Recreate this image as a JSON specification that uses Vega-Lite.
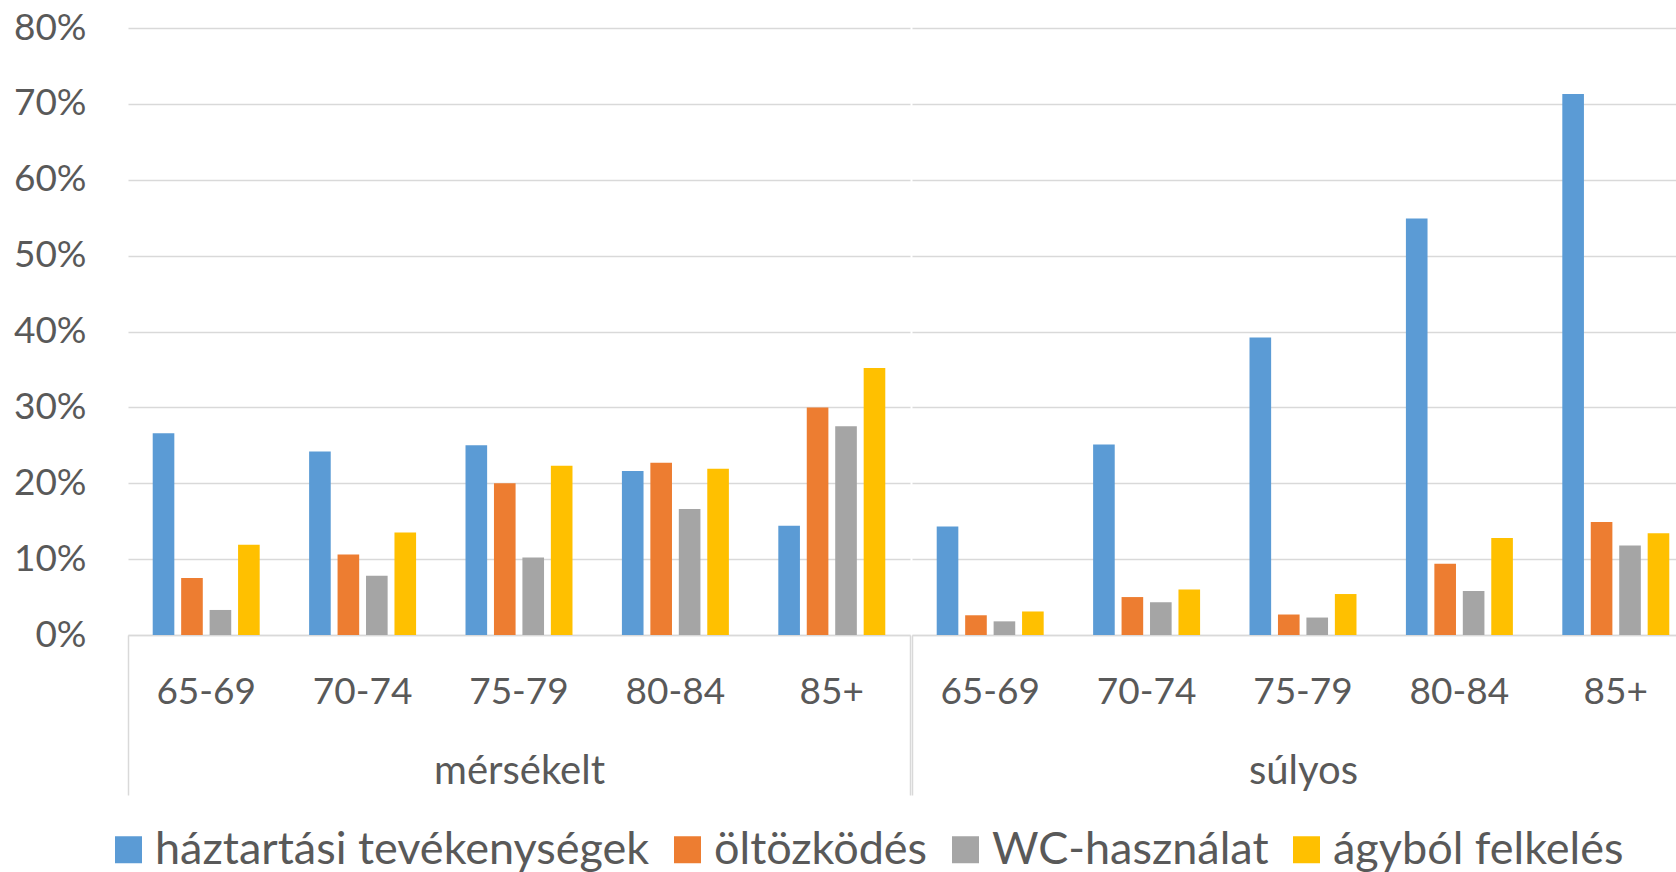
{
  "$schema": "https://vega.github.io/schema/vega-lite/v6.json",
  "autosize": {"type": "pad"},
  "padding": {"left": 13, "top": 9, "right": 0, "bottom": 0},
  "background": "white",
  "config": {
    "view": {"stroke": null},
    "font": "Lato",
    "axis": {"labelFont": "Lato", "labelColor": "#595959"}
  },
  "data": {
    "values": [
      {"group": "mérsékelt", "age": "65-69", "series": "háztartási tevékenységek", "value": 0.266},
      {"group": "mérsékelt", "age": "65-69", "series": "öltözködés", "value": 0.075},
      {"group": "mérsékelt", "age": "65-69", "series": "WC-használat", "value": 0.033},
      {"group": "mérsékelt", "age": "65-69", "series": "ágyból felkelés", "value": 0.119},
      {"group": "mérsékelt", "age": "70-74", "series": "háztartási tevékenységek", "value": 0.242},
      {"group": "mérsékelt", "age": "70-74", "series": "öltözködés", "value": 0.106},
      {"group": "mérsékelt", "age": "70-74", "series": "WC-használat", "value": 0.078},
      {"group": "mérsékelt", "age": "70-74", "series": "ágyból felkelés", "value": 0.135},
      {"group": "mérsékelt", "age": "75-79", "series": "háztartási tevékenységek", "value": 0.250},
      {"group": "mérsékelt", "age": "75-79", "series": "öltözködés", "value": 0.200},
      {"group": "mérsékelt", "age": "75-79", "series": "WC-használat", "value": 0.102},
      {"group": "mérsékelt", "age": "75-79", "series": "ágyból felkelés", "value": 0.223},
      {"group": "mérsékelt", "age": "80-84", "series": "háztartási tevékenységek", "value": 0.216},
      {"group": "mérsékelt", "age": "80-84", "series": "öltözködés", "value": 0.227},
      {"group": "mérsékelt", "age": "80-84", "series": "WC-használat", "value": 0.166},
      {"group": "mérsékelt", "age": "80-84", "series": "ágyból felkelés", "value": 0.219},
      {"group": "mérsékelt", "age": "85+", "series": "háztartási tevékenységek", "value": 0.144},
      {"group": "mérsékelt", "age": "85+", "series": "öltözködés", "value": 0.300},
      {"group": "mérsékelt", "age": "85+", "series": "WC-használat", "value": 0.275},
      {"group": "mérsékelt", "age": "85+", "series": "ágyból felkelés", "value": 0.352},
      {"group": "súlyos", "age": "65-69", "series": "háztartási tevékenységek", "value": 0.143},
      {"group": "súlyos", "age": "65-69", "series": "öltözködés", "value": 0.026},
      {"group": "súlyos", "age": "65-69", "series": "WC-használat", "value": 0.018},
      {"group": "súlyos", "age": "65-69", "series": "ágyból felkelés", "value": 0.031},
      {"group": "súlyos", "age": "70-74", "series": "háztartási tevékenységek", "value": 0.251},
      {"group": "súlyos", "age": "70-74", "series": "öltözködés", "value": 0.050},
      {"group": "súlyos", "age": "70-74", "series": "WC-használat", "value": 0.043},
      {"group": "súlyos", "age": "70-74", "series": "ágyból felkelés", "value": 0.060},
      {"group": "súlyos", "age": "75-79", "series": "háztartási tevékenységek", "value": 0.392},
      {"group": "súlyos", "age": "75-79", "series": "öltözködés", "value": 0.027},
      {"group": "súlyos", "age": "75-79", "series": "WC-használat", "value": 0.023},
      {"group": "súlyos", "age": "75-79", "series": "ágyból felkelés", "value": 0.054},
      {"group": "súlyos", "age": "80-84", "series": "háztartási tevékenységek", "value": 0.549},
      {"group": "súlyos", "age": "80-84", "series": "öltözködés", "value": 0.094},
      {"group": "súlyos", "age": "80-84", "series": "WC-használat", "value": 0.058},
      {"group": "súlyos", "age": "80-84", "series": "ágyból felkelés", "value": 0.128},
      {"group": "súlyos", "age": "85+", "series": "háztartási tevékenységek", "value": 0.713},
      {"group": "súlyos", "age": "85+", "series": "öltözködés", "value": 0.149},
      {"group": "súlyos", "age": "85+", "series": "WC-használat", "value": 0.118},
      {"group": "súlyos", "age": "85+", "series": "ágyból felkelés", "value": 0.134}
    ]
  },
  "facet": {
    "column": {
      "field": "group",
      "type": "nominal",
      "sort": ["mérsékelt", "súlyos"],
      "header": {"labels": false, "title": null, "labelPadding": 0, "titlePadding": 0}
    }
  },
  "spacing": 0,
  "resolve": {"scale": {"x": "independent", "xOffset": "independent"}},
  "spec": {
    "width": 782,
    "height": 607,
    "layer": [
      {
        "mark": {"type": "rect", "opacity": 0},
        "encoding": {
          "x": {
            "field": "group",
            "type": "nominal",
            "scale": {"padding": 0},
            "axis": {
              "orient": "bottom",
              "title": null,
              "domain": false,
              "grid": false,
              "ticks": true,
              "tickBand": "extent",
              "tickSize": 160,
              "tickColor": "#d9d9d9",
              "tickWidth": 1.5,
              "labelAngle": 0,
              "labelFontSize": 40,
              "labelPadding": -44,
              "labelColor": "#595959"
            }
          }
        }
      },
      {
        "mark": {"type": "bar"},
        "encoding": {
          "x": {
            "field": "age",
            "type": "nominal",
            "sort": ["65-69", "70-74", "75-79", "80-84", "85+"],
            "scale": {"paddingInner": 0.316, "paddingOuter": 0.158},
            "axis": {
              "orient": "bottom",
              "title": null,
              "labelAngle": 0,
              "labelFontSize": 37,
              "labelPadding": 39,
              "ticks": false,
              "domain": true,
              "domainColor": "#d9d9d9",
              "domainWidth": 1.5,
              "grid": false
            }
          },
          "xOffset": {
            "field": "series",
            "type": "nominal",
            "sort": ["háztartási tevékenységek", "öltözködés", "WC-használat", "ágyból felkelés"],
            "scale": {"paddingInner": 0.24}
          },
          "y": {
            "field": "value",
            "type": "quantitative",
            "scale": {"domain": [0, 0.8]},
            "axis": {
              "title": null,
              "values": [0, 0.1, 0.2, 0.3, 0.4, 0.5, 0.6, 0.7, 0.8],
              "format": ".0%",
              "labelFontSize": 37,
              "labelPadding": 41,
              "ticks": false,
              "domain": false,
              "gridColor": "#d9d9d9",
              "gridWidth": 1.5
            }
          },
          "color": {
            "field": "series",
            "type": "nominal",
            "scale": {
              "domain": ["háztartási tevékenységek", "öltözködés", "WC-használat", "ágyból felkelés"],
              "range": ["#5B9BD5", "#ED7D31", "#A5A5A5", "#FFC000"]
            },
            "legend": {
              "title": null,
              "orient": "none",
              "legendX": -22,
              "legendY": 799,
              "direction": "horizontal",
              "columns": 4,
              "symbolType": "square",
              "symbolSize": 729,
              "symbolStrokeWidth": 0,
              "labelFont": "Lato",
              "labelFontSize": 45,
              "labelColor": "#595959",
              "labelOffset": 4,
              "columnPadding": 15,
              "labelLimit": 0
            }
          }
        }
      }
    ],
    "resolve": {"scale": {"x": "independent", "xOffset": "independent"}}
  }
}
